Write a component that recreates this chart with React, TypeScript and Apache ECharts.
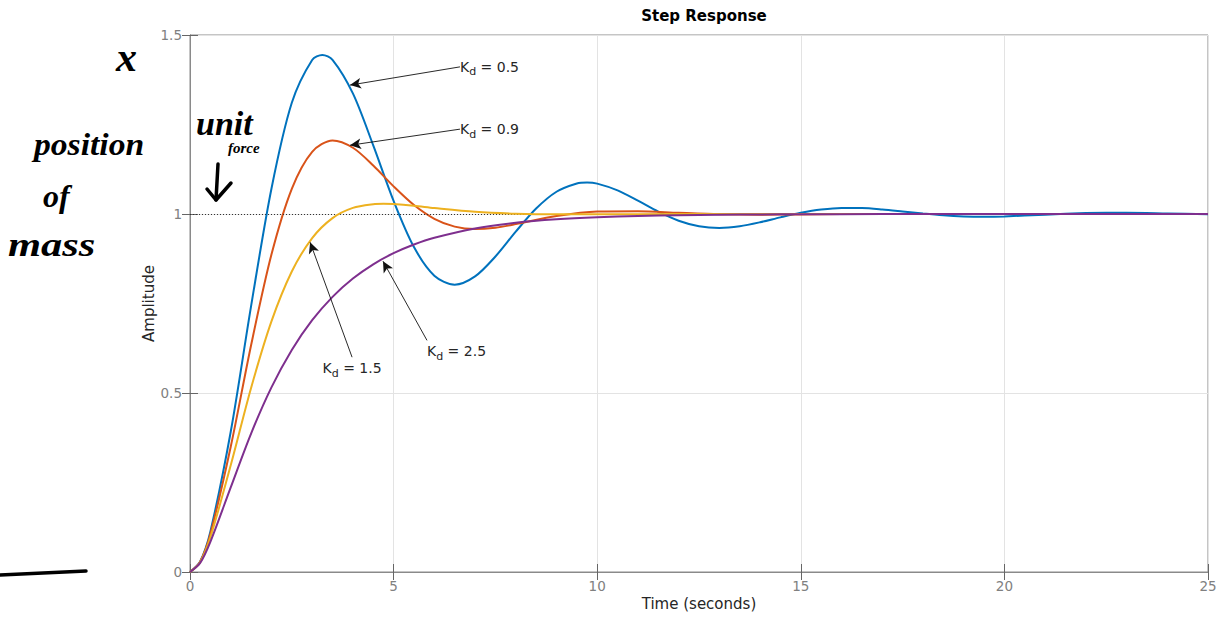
import React, { useEffect, useRef } from "react";
import * as echarts from "echarts";

// ---- data ----
const xTicks = [0, 5, 10, 15, 20, 25];
const yTicks = [0, 0.5, 1, 1.5];

const tKd05 = [0, 0.25, 0.5, 1, 1.5, 2, 2.5, 3, 3.25, 3.5, 4, 4.5, 5, 5.5, 6, 6.5, 7, 7.5, 8, 8.5, 9, 9.5, 9.75, 10, 10.5, 11, 11.5, 12, 12.5, 13, 13.5, 14, 14.5, 15, 15.5, 16, 16.5, 17, 17.5, 18, 18.5, 19, 19.5, 20, 21, 22, 22.5, 23, 24, 25];
const yKd05 = [0, 0.0298, 0.1128, 0.3917, 0.7425, 1.0706, 1.3107, 1.4304, 1.4444, 1.4306, 1.3368, 1.1916, 1.0366, 0.9076, 0.8277, 0.8026, 0.8257, 0.8812, 0.9507, 1.0152, 1.0621, 1.0852, 1.0878, 1.0848, 1.0659, 1.0371, 1.0066, 0.9813, 0.9658, 0.961, 0.9658, 0.9769, 0.9906, 1.0032, 1.0124, 1.0169, 1.0167, 1.0129, 1.0072, 1.0012, 0.9962, 0.9932, 0.9923, 0.9933, 0.9982, 1.0025, 1.0033, 1.0033, 1.0014, 0.9992];

const tKd09 = [0, 0.25, 0.5, 1, 1.5, 2, 2.5, 3, 3.5, 4, 4.5, 5, 5.5, 6, 6.5, 7, 7.5, 8, 9, 10, 11, 12, 13, 14, 15, 16, 18, 20, 25];
const yKd09 = [0, 0.0289, 0.106, 0.3499, 0.6336, 0.8867, 1.0704, 1.1738, 1.2053, 1.185, 1.1355, 1.0772, 1.025, 0.9867, 0.9648, 0.9578, 0.9618, 0.9718, 0.9945, 1.0071, 1.0079, 1.0034, 0.9995, 0.9982, 0.9988, 0.9997, 1.0002, 1.0, 1.0];

const tKd15 = [0, 0.25, 0.5, 1, 1.5, 2, 2.5, 3, 3.5, 4, 4.5, 4.75, 5, 5.5, 6, 7, 8, 9, 10, 12, 15, 20, 25];
const yKd15 = [0, 0.0275, 0.0969, 0.2982, 0.5142, 0.7, 0.8393, 0.9328, 0.9886, 1.017, 1.0273, 1.0284, 1.0276, 1.023, 1.0168, 1.0064, 1.001, 0.9993, 0.9993, 0.9999, 1.0, 1.0, 1.0];

const tKd25 = [0, 0.25, 0.5, 1, 1.5, 2, 2.5, 3, 3.5, 4, 4.5, 5, 5.5, 6, 7, 8, 9, 10, 11, 12, 13, 14, 15, 16, 18, 20, 25];
const yKd25 = [0, 0.0255, 0.0842, 0.2364, 0.3867, 0.5156, 0.6202, 0.7033, 0.7686, 0.8197, 0.8595, 0.8906, 0.9148, 0.9336, 0.9597, 0.9756, 0.9852, 0.991, 0.9945, 0.9967, 0.998, 0.9988, 0.9993, 0.9996, 0.9998, 0.9999, 1.0];

const seriesNames = ["0.5", "0.9", "1.5", "2.5"];
const seriesColors = ["#0072BD", "#D95319", "#EDB120", "#7E2F8E"];
const seriesTimes = [tKd05, tKd09, tKd15, tKd25];
const seriesValues = [yKd05, yKd09, yKd15, yKd25];

// annotation arrows: [text start (t, amp)], [arrow tip (t, amp)]
const arrowFrom = [[6.63, 1.411], [6.63, 1.237], [3.98, 0.6], [5.82, 0.647]];
const arrowTo = [[3.93, 1.36], [3.93, 1.192], [2.95, 0.921], [4.74, 0.868]];

export default function App() {
  const ref = useRef<HTMLDivElement>(null);

  useEffect(() => {
    document.body.style.margin = "0";
    const chart = echarts.init(ref.current!, undefined, { renderer: "svg" });
    const font = "DejaVu Sans";
    const axisGray = "#8a8a8a";
    const labelGray = "#808080";

    const labelPlacement: any[] = [
      { position: "right", distance: 0 },
      { position: "right", distance: 0 },
      { position: "bottom", distance: 2 },
      { position: [0, 2] },
    ];

    const series: any[] = seriesNames.map((name, i) => ({
      type: "line",
      name: "Kd = " + name,
      data: seriesTimes[i].map((t, j) => [t, seriesValues[i][j]]),
      smooth: 0.3,
      showSymbol: false,
      symbol: "none",
      lineStyle: { color: seriesColors[i], width: 2 },
      itemStyle: { color: seriesColors[i] },
      z: 3 + i,
      markLine: {
        silent: true,
        symbol: ["none", "arrow"],
        symbolSize: [8, 11],
        lineStyle: { color: "#111", width: 0.9, type: "solid" },
        label: { show: false },
        data: [
          [
            { coord: arrowFrom[i] },
            { coord: arrowTo[i] },
          ],
        ],
        z: 10,
      },
      markPoint: {
        silent: true,
        symbol: "circle",
        symbolSize: 0,
        data: [
          {
            coord: arrowFrom[i],
            label: {
              show: true,
              ...labelPlacement[i],
              formatter: "{k|K}{d|d}{k| = " + name + "}",
              rich: {
                k: { fontFamily: font, fontSize: 14, color: "#262626", lineHeight: 18 },
                d: { fontFamily: font, fontSize: 11, color: "#262626", lineHeight: 18, padding: [10, 0, 0, 0] },
              },
            },
          },
        ],
        z: 10,
      },
    }));

    // dotted steady-state reference line
    series.push({
      type: "line",
      data: [],
      markLine: {
        silent: true,
        symbol: "none",
        label: { show: false },
        lineStyle: { color: "#333", width: 1, type: [1, 2] },
        data: [{ yAxis: 1 }],
      },
      z: 2,
    });

    const hand = "Liberation Serif";
    const handStyle = (txt: string, size: number) => ({
      text: txt,
      fill: "#000",
      font: `italic bold ${size}px "${hand}"`,
    });

    chart.setOption({
      animation: false,
      backgroundColor: "#fff",
      title: {
        text: "Step Response",
        left: 699,
        textAlign: "center",
        top: 3,
        textStyle: { fontFamily: font, fontSize: 15, fontWeight: "bold", color: "#000" },
      },
      grid: {
        left: 190,
        right: 12,
        top: 35,
        bottom: 45,
        show: true,
        borderColor: axisGray,
        borderWidth: 1,
        backgroundColor: "#fff",
      },
      xAxis: [
        {
          type: "value",
          min: xTicks[0],
          max: xTicks[xTicks.length - 1],
          interval: 5,
          name: "Time (seconds)",
          nameLocation: "middle",
          nameGap: 24,
          nameMoveOverlap: false,
          nameTextStyle: { fontFamily: font, fontSize: 15, color: "#262626" },
          axisLine: { show: true, lineStyle: { color: axisGray } },
          axisTick: { show: true, inside: true, length: 8, lineStyle: { color: "#666" } },
          axisLabel: { fontFamily: font, fontSize: 13.5, color: labelGray, margin: 7 },
          splitLine: { show: true, lineStyle: { color: "#e3e3e3" } },
        },
        {
          type: "value",
          position: "top",
          min: xTicks[0],
          max: xTicks[xTicks.length - 1],
          interval: 5,
          axisLine: { show: true, lineStyle: { color: axisGray } },
          axisTick: { show: true, inside: true, length: 8, lineStyle: { color: "#666" } },
          axisLabel: { show: false },
          splitLine: { show: false },
        },
      ],
      yAxis: [
        {
          type: "value",
          min: yTicks[0],
          max: yTicks[yTicks.length - 1],
          interval: 0.5,
          name: "Amplitude",
          nameLocation: "middle",
          nameGap: 34,
          nameMoveOverlap: false,
          nameRotate: 90,
          nameTextStyle: { fontFamily: font, fontSize: 15, color: "#262626" },
          axisLine: { show: true, lineStyle: { color: axisGray } },
          axisTick: { show: true, inside: true, length: 8, lineStyle: { color: "#666" } },
          axisLabel: { fontFamily: font, fontSize: 13.5, color: labelGray, margin: 8 },
          splitLine: { show: true, lineStyle: { color: "#e3e3e3" } },
        },
        {
          type: "value",
          position: "right",
          min: yTicks[0],
          max: yTicks[yTicks.length - 1],
          interval: 0.5,
          axisLine: { show: true, lineStyle: { color: axisGray } },
          axisTick: { show: true, inside: true, length: 8, lineStyle: { color: "#666" } },
          axisLabel: { show: false },
          splitLine: { show: false },
        },
      ],
      series,
      graphic: [
        { type: "text", x: 116, y: 36, style: handStyle("x", 42) },
        { type: "text", x: 34, y: 128, scaleX: 1.05, style: handStyle("position", 32) },
        { type: "text", x: 43, y: 180, style: handStyle("of", 32) },
        { type: "text", x: 8, y: 228, scaleX: 1.25, style: handStyle("mass", 34) },
        { type: "text", x: 196, y: 106, style: handStyle("unit", 34) },
        { type: "text", x: 228, y: 140, style: handStyle("force", 15) },
        {
          type: "polyline",
          shape: { points: [[218, 164], [216, 200]] },
          style: { stroke: "#000", lineWidth: 3.5, fill: null, lineCap: "round" },
        },
        {
          type: "polyline",
          shape: { points: [[207, 189], [216, 200], [231, 183]] },
          style: { stroke: "#000", lineWidth: 3.5, fill: null, lineCap: "round", lineJoin: "round" },
        },
        {
          type: "polyline",
          shape: { points: [[0, 575], [86, 571]] },
          style: { stroke: "#000", lineWidth: 3.5, fill: null, lineCap: "round" },
        },
      ],
    });
    return () => chart.dispose();
  }, []);

  return (
    <div
      ref={ref}
      style={{ position: "fixed", left: 0, top: 0, width: 1220, height: 617, background: "#fff" }}
    />
  );
}
